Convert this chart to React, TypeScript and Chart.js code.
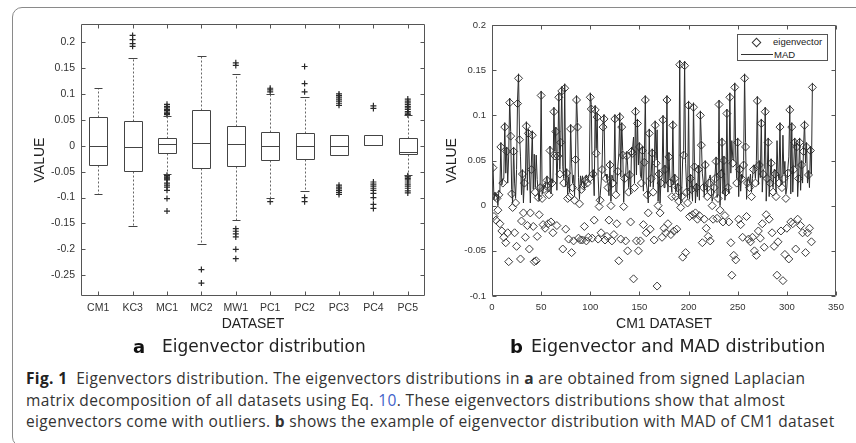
import React, { useEffect, useRef } from "react";
import { Chart, registerables } from "chart.js";

Chart.register(...registerables);

// ---------- Panel a: eigenvector distribution (box plots) ----------
const CATEGORIES = ["CM1", "KC3", "MC1", "MC2", "MW1", "PC1", "PC2", "PC3", "PC4", "PC5"];
const BOX_Q3 = [0.055, 0.048, 0.0155, 0.069, 0.0387, 0.0258, 0.024, 0.0206, 0.0206, 0.0155];
const BOX_MEDIAN = [0.0, -0.002, 0.0026, 0.0058, 0.003, 0.0, 0.0, 0.0, 0.001, -0.013];
const BOX_Q1 = [-0.0374, -0.049, -0.0135, -0.0426, -0.0387, -0.0277, -0.025, -0.018, 0.001, -0.015];
const WHISKER_HIGH = [0.112, 0.169, 0.057, 0.174, 0.139, 0.1, 0.094, 0.0206, 0.0206, 0.059];
const WHISKER_LOW = [-0.094, -0.155, -0.054, -0.189, -0.143, -0.1, -0.088, -0.018, 0.001, -0.057];
const OUTLIERS: number[][] = [
  [],
  [0.213, 0.205, 0.197, 0.192],
  [0.08, 0.076, 0.073, 0.07, 0.068, 0.065, 0.062, 0.06, -0.057, -0.06, -0.062, -0.064, -0.066, -0.072, -0.076, -0.08, -0.086, -0.102, -0.126],
  [-0.239, -0.265],
  [0.16, 0.155, -0.16, -0.165, -0.17, -0.176, -0.2, -0.218],
  [0.111, 0.108, 0.104, -0.108],
  [0.153, 0.12, 0.104, -0.1, -0.108],
  [0.1, 0.097, 0.094, 0.09, 0.086, 0.082, 0.078, -0.076, -0.08, -0.083, -0.086, -0.09, -0.094],
  [0.077, 0.072, -0.07, -0.074, -0.078, -0.082, -0.086, -0.092, -0.1, -0.113, -0.121],
  [0.09, 0.086, 0.083, 0.08, 0.076, 0.073, 0.07, 0.066, 0.063, 0.06, -0.058, -0.06, -0.063, -0.066, -0.07, -0.074, -0.078, -0.082, -0.087, -0.091],
];
const Y_TICKS_A = [-0.25, -0.2, -0.15, -0.1, -0.05, 0, 0.05, 0.1, 0.15, 0.2];

// ---------- Panel b: eigenvector and MAD of CM1 dataset ----------
const EIGENVECTOR = [
  0.042, -0.012, 0.010, -0.016, 0.008, -0.005, 0.012, -0.020, 0.065, -0.028,
  0.025, -0.035, 0.087, -0.041, 0.060, -0.030, -0.062, 0.114, 0.077, 0.013,
  -0.002, 0.060, -0.030, 0.003, -0.045, 0.113, 0.141, 0.073, -0.059, -0.017,
  0.035, -0.008, 0.025, -0.035, 0.088, -0.022, 0.080, -0.048, -0.008, 0.040,
  0.078, -0.023, -0.062, 0.015, -0.061, -0.034, 0.009, -0.010, 0.020, 0.122,
  0.008, -0.021, 0.018, -0.025, 0.022, 0.028, -0.020, 0.012, 0.061, -0.018,
  0.025, -0.030, 0.104, 0.055, 0.082, -0.022, 0.055, 0.120, 0.035, 0.070,
  0.127, -0.048, 0.025, 0.130, -0.026, 0.036, 0.008, -0.037, 0.010, 0.085,
  -0.052, 0.020, -0.039, 0.006, 0.051, 0.117, 0.087, -0.036, 0.002, -0.038,
  0.018, -0.038, 0.022, -0.023, 0.028, -0.039, 0.025, -0.035, 0.030, 0.120,
  0.107, -0.036, 0.035, -0.016, 0.106, 0.058, 0.098, -0.037, -0.001, 0.006,
  -0.030, 0.040, 0.087, 0.096, -0.038, 0.030, -0.034, 0.020, -0.016, 0.045,
  0.000, -0.039, 0.025, -0.032, 0.096, 0.012, -0.020, 0.038, -0.061, 0.098,
  -0.037, 0.087, 0.056, -0.001, 0.030, -0.039, 0.055, -0.050, 0.015, 0.034,
  -0.018, 0.060, 0.058, -0.081, 0.020, 0.104, -0.039, 0.091, -0.050, 0.065,
  -0.039, 0.025, 0.061, -0.021, 0.048, 0.117, -0.030, 0.012, -0.008, 0.080,
  -0.026, 0.030, 0.058, 0.015, -0.038, 0.089, 0.047, -0.089, 0.000, 0.035,
  -0.008, 0.025, -0.035, 0.095, -0.025, 0.040, -0.030, 0.117, -0.020, 0.054,
  0.025, -0.032, 0.010, 0.089, -0.028, 0.030, 0.010, -0.026, 0.020, 0.005,
  0.156, -0.002, 0.010, -0.057, 0.056, 0.155, -0.052, 0.015, 0.003, 0.111,
  -0.012, 0.030, 0.018, -0.010, 0.109, 0.043, -0.008, 0.020, -0.015, 0.040,
  -0.011, 0.100, 0.067, -0.041, 0.020, -0.015, 0.045, -0.025, 0.010, -0.034,
  0.025, -0.039, 0.015, 0.000, -0.015, 0.020, 0.030, 0.049, -0.014, 0.008,
  0.112, -0.005, 0.035, 0.070, -0.018, 0.050, -0.011, 0.015, 0.102, 0.020,
  -0.018, 0.120, -0.041, -0.077, 0.047, -0.055, 0.131, -0.060, 0.025, 0.070,
  -0.015, 0.040, -0.021, 0.030, -0.035, 0.045, 0.141, 0.065, -0.012, 0.025,
  -0.037, 0.020, -0.040, 0.010, -0.035, 0.040, -0.050, 0.025, -0.055, 0.116,
  -0.028, 0.045, -0.036, 0.091, -0.020, 0.035, -0.046, 0.104, -0.010, 0.030,
  0.070, -0.015, 0.025, 0.047, -0.030, 0.015, -0.045, 0.035, 0.010, -0.077,
  -0.040, 0.025, 0.087, -0.028, 0.020, -0.083, 0.030, -0.054, 0.008, -0.025,
  0.036, -0.059, 0.106, -0.018, 0.087, -0.020, 0.040, 0.070, -0.048, 0.065,
  -0.015, 0.030, 0.070, -0.022, 0.045, -0.030, 0.060, 0.089, -0.052, 0.065,
  -0.030, 0.034, -0.025, 0.061, -0.040, 0.131,
];
const MAD = [
  0.047, 0.007, 0.015, 0.011, 0.013, 0.000, 0.017, 0.015, 0.070, 0.023,
  0.030, 0.030, 0.092, 0.036, 0.065, 0.025, 0.057, 0.119, 0.082, 0.018,
  0.003, 0.065, 0.025, 0.008, 0.040, 0.118, 0.146, 0.078, 0.054, 0.012,
  0.040, 0.003, 0.030, 0.030, 0.093, 0.017, 0.085, 0.043, 0.003, 0.045,
  0.083, 0.018, 0.057, 0.020, 0.056, 0.029, 0.014, 0.005, 0.025, 0.127,
  0.013, 0.016, 0.023, 0.020, 0.027, 0.033, 0.015, 0.017, 0.066, 0.013,
  0.030, 0.025, 0.109, 0.060, 0.087, 0.017, 0.060, 0.125, 0.040, 0.075,
  0.132, 0.043, 0.030, 0.135, 0.021, 0.041, 0.013, 0.032, 0.015, 0.090,
  0.047, 0.025, 0.034, 0.011, 0.056, 0.122, 0.092, 0.031, 0.007, 0.033,
  0.023, 0.033, 0.027, 0.018, 0.033, 0.034, 0.030, 0.030, 0.035, 0.125,
  0.112, 0.031, 0.040, 0.011, 0.111, 0.063, 0.103, 0.032, 0.004, 0.011,
  0.025, 0.045, 0.092, 0.101, 0.033, 0.035, 0.029, 0.025, 0.011, 0.050,
  0.005, 0.034, 0.030, 0.027, 0.101, 0.017, 0.015, 0.043, 0.056, 0.103,
  0.032, 0.092, 0.061, 0.004, 0.035, 0.034, 0.060, 0.045, 0.020, 0.039,
  0.013, 0.065, 0.063, 0.076, 0.025, 0.109, 0.034, 0.096, 0.045, 0.070,
  0.034, 0.030, 0.066, 0.016, 0.053, 0.122, 0.025, 0.017, 0.003, 0.085,
  0.021, 0.035, 0.063, 0.020, 0.033, 0.094, 0.052, 0.084, 0.005, 0.040,
  0.003, 0.030, 0.030, 0.100, 0.020, 0.045, 0.025, 0.122, 0.015, 0.059,
  0.030, 0.027, 0.015, 0.094, 0.023, 0.035, 0.015, 0.021, 0.025, 0.010,
  0.161, 0.003, 0.015, 0.052, 0.061, 0.160, 0.047, 0.020, 0.008, 0.116,
  0.007, 0.035, 0.023, 0.005, 0.114, 0.048, 0.003, 0.025, 0.010, 0.045,
  0.006, 0.105, 0.072, 0.036, 0.025, 0.010, 0.050, 0.020, 0.015, 0.029,
  0.030, 0.034, 0.020, 0.005, 0.010, 0.025, 0.035, 0.054, 0.009, 0.013,
  0.117, 0.000, 0.040, 0.075, 0.013, 0.055, 0.006, 0.020, 0.107, 0.025,
  0.013, 0.125, 0.036, 0.072, 0.052, 0.050, 0.136, 0.055, 0.030, 0.075,
  0.010, 0.045, 0.016, 0.035, 0.030, 0.050, 0.146, 0.070, 0.007, 0.030,
  0.032, 0.025, 0.035, 0.015, 0.030, 0.045, 0.045, 0.030, 0.050, 0.121,
  0.023, 0.050, 0.031, 0.096, 0.015, 0.040, 0.041, 0.109, 0.005, 0.035,
  0.075, 0.010, 0.030, 0.052, 0.025, 0.020, 0.040, 0.040, 0.015, 0.072,
  0.035, 0.030, 0.092, 0.023, 0.025, 0.078, 0.035, 0.049, 0.013, 0.020,
  0.041, 0.054, 0.111, 0.013, 0.092, 0.015, 0.045, 0.075, 0.043, 0.070,
  0.010, 0.035, 0.075, 0.017, 0.050, 0.025, 0.065, 0.094, 0.047, 0.070,
  0.025, 0.039, 0.020, 0.066, 0.035, 0.136,
];
const X_TICKS_B = [0, 50, 100, 150, 200, 250, 300, 350];
const Y_TICKS_B = [-0.1, -0.05, 0, 0.05, 0.1, 0.15, 0.2];

const AXIS_FONT = "'Liberation Sans', Arial, Helvetica, sans-serif";
const fmt = (v: any) => String(Number(Number(v).toFixed(3)));

const line = (ctx: CanvasRenderingContext2D, x1: number, y1: number, x2: number, y2: number) => {
  ctx.moveTo(x1, y1);
  ctx.lineTo(x2, y2);
};

// MATLAB-like box around the axes with inward tick marks on all four sides
const framePlugin = {
  id: "matlabFrame",
  afterDraw(chart: any) {
    const { ctx, chartArea, scales } = chart;
    const L = Math.round(chartArea.left) + 0.5;
    const R = Math.round(chartArea.right) - 0.5;
    const T = Math.round(chartArea.top) + 0.5;
    const B = Math.round(chartArea.bottom) - 0.5;
    const tl = 4;
    ctx.save();
    ctx.strokeStyle = "#555";
    ctx.lineWidth = 1;
    ctx.beginPath();
    ctx.rect(L, T, R - L, B - T);
    scales.x.ticks.forEach((t: any) => {
      const px = Math.round(scales.x.getPixelForValue(t.value)) + 0.5;
      line(ctx, px, B, px, B - tl);
      line(ctx, px, T, px, T + tl);
    });
    scales.y.ticks.forEach((t: any) => {
      const py = Math.round(scales.y.getPixelForValue(t.value)) + 0.5;
      line(ctx, L, py, L + tl, py);
      line(ctx, R, py, R - tl, py);
    });
    ctx.stroke();
    ctx.restore();
  },
};

// Box-and-whisker drawing through the chart's own scales
const boxPlugin = {
  id: "boxWhisker",
  afterDatasetsDraw(chart: any) {
    const { ctx, scales } = chart;
    const { x, y } = scales;
    const px = (v: number) => Math.round(x.getPixelForValue(v)) + 0.5;
    const py = (v: number) => Math.round(y.getPixelForValue(v)) + 0.5;
    ctx.save();
    ctx.lineWidth = 1;
    CATEGORIES.forEach((_, i) => {
      const c = i + 1;
      const xc = px(c);
      const xl = px(c - 0.26);
      const xr = px(c + 0.26);
      const cl = px(c - 0.12);
      const cr = px(c + 0.12);
      const q1 = py(BOX_Q1[i]);
      const q3 = py(BOX_Q3[i]);
      const med = py(BOX_MEDIAN[i]);
      const hi = py(WHISKER_HIGH[i]);
      const lo = py(WHISKER_LOW[i]);
      // dotted whiskers
      ctx.strokeStyle = "#666";
      ctx.setLineDash([2, 2]);
      ctx.beginPath();
      line(ctx, xc, q3, xc, hi);
      line(ctx, xc, q1, xc, lo);
      ctx.stroke();
      ctx.setLineDash([]);
      // caps
      ctx.strokeStyle = "#444";
      ctx.beginPath();
      line(ctx, cl, hi, cr, hi);
      line(ctx, cl, lo, cr, lo);
      ctx.stroke();
      // box and median
      ctx.strokeStyle = "#444";
      ctx.beginPath();
      ctx.rect(xl, q3, xr - xl, q1 - q3);
      line(ctx, xl, med, xr, med);
      ctx.stroke();
    });
    ctx.restore();
  },
};

function baseScales(opts: {
  xMin: number; xMax: number; xTicks: number[]; xLabel: (v: number) => string; xTitle: string;
  yMin: number; yMax: number; yTicks: number[]; yAxisWidth: number; yTitlePad: number; tickSize: number;
}) {
  return {
    x: {
      type: "linear",
      min: opts.xMin,
      max: opts.xMax,
      afterBuildTicks: (ax: any) => {
        ax.ticks = opts.xTicks.map((v) => ({ value: v }));
      },
      afterFit: (ax: any) => {
        ax.height = 44;
      },
      grid: { display: false, drawTicks: false },
      border: { display: false },
      ticks: {
        autoSkip: false,
        maxRotation: 0,
        padding: 6,
        color: "#333",
        font: { family: AXIS_FONT, size: opts.tickSize },
        callback: (v: any) => opts.xLabel(Number(v)),
      },
      title: {
        display: true,
        text: opts.xTitle,
        color: "#222",
        font: { family: AXIS_FONT, size: 14 },
        padding: { top: 0, bottom: 7.6 },
      },
    },
    y: {
      type: "linear",
      min: opts.yMin,
      max: opts.yMax,
      afterBuildTicks: (ax: any) => {
        ax.ticks = opts.yTicks.map((v) => ({ value: v }));
      },
      afterFit: (ax: any) => {
        ax.width = opts.yAxisWidth;
      },
      grid: { display: false, drawTicks: false },
      border: { display: false },
      ticks: {
        padding: 6,
        color: "#333",
        font: { family: AXIS_FONT, size: opts.tickSize },
        callback: (v: any) => fmt(v),
      },
      title: {
        display: true,
        text: "VALUE",
        color: "#222",
        font: { family: AXIS_FONT, size: 14 },
        padding: { top: opts.yTitlePad, bottom: 0 },
      },
    },
  };
}

export default function App() {
  const refA = useRef<HTMLCanvasElement | null>(null);
  const refB = useRef<HTMLCanvasElement | null>(null);

  useEffect(() => {
    const outlierPoints = OUTLIERS.flatMap((vals, i) => vals.map((v) => ({ x: i + 1, y: v })));
    const chartA = new Chart(refA.current as HTMLCanvasElement, {
      type: "scatter",
      data: {
        datasets: [
          {
            label: "outliers",
            data: outlierPoints,
            pointStyle: "cross",
            pointRadius: 3,
            pointBorderWidth: 1.2,
            pointBorderColor: "#2a2a2a",
            pointBackgroundColor: "#2a2a2a",
          } as any,
        ],
      },
      options: {
        responsive: false,
        animation: false,
        events: [],
        layout: { padding: { left: 0, top: 24, right: 15, bottom: 0 } },
        plugins: { legend: { display: false }, tooltip: { enabled: false } },
        scales: baseScales({
          xMin: 0.5,
          xMax: 10.5,
          xTicks: CATEGORIES.map((_, i) => i + 1),
          xLabel: (v) => CATEGORIES[Math.round(v) - 1] ?? "",
          xTitle: "DATASET",
          yMin: -0.29,
          yMax: 0.235,
          yTicks: Y_TICKS_A,
          yAxisWidth: 81,
          yTitlePad: 31.6,
          tickSize: 10.5,
        }) as any,
      },
      plugins: [boxPlugin, framePlugin],
    });

    const chartB = new Chart(refB.current as HTMLCanvasElement, {
      type: "scatter",
      data: {
        datasets: [
          {
            label: "MAD",
            data: MAD.map((v, i) => ({ x: i + 1, y: v })),
            showLine: true,
            borderColor: "#2b2b2b",
            borderWidth: 1,
            pointRadius: 0,
            order: 0,
          } as any,
          {
            label: "eigenvector",
            data: EIGENVECTOR.map((v, i) => ({ x: i + 1, y: v })),
            showLine: false,
            pointStyle: "rectRot",
            pointRadius: 4,
            pointBorderWidth: 1,
            pointBorderColor: "#3a3a3a",
            pointBackgroundColor: "rgba(0,0,0,0)",
            order: 1,
          } as any,
        ],
      },
      options: {
        responsive: false,
        animation: false,
        events: [],
        layout: { padding: { left: 0, top: 25, right: 20, bottom: 0 } },
        plugins: { legend: { display: false }, tooltip: { enabled: false } },
        scales: baseScales({
          xMin: 0,
          xMax: 350,
          xTicks: X_TICKS_B,
          xLabel: (v) => fmt(v),
          xTitle: "CM1 DATASET",
          yMin: -0.1,
          yMax: 0.2,
          yTicks: Y_TICKS_B,
          yAxisWidth: 52,
          yTitlePad: 3.6,
          tickSize: 9.5,
        }) as any,
      },
      plugins: [framePlugin],
    });

    return () => {
      chartA.destroy();
      chartB.destroy();
    };
  }, []);

  const captionFont = "'DejaVu Sans', Verdana, sans-serif";
  const figFont = "'Open Sans', 'Noto Sans', sans-serif";
  const figLine: React.CSSProperties = {
    position: "absolute",
    left: 26,
    whiteSpace: "nowrap",
    fontFamily: figFont,
    fontSize: 15.5,
    lineHeight: "20px",
    color: "#333",
    letterSpacing: "0.35px",
  };

  return (
    <div
      style={{
        position: "absolute",
        left: 0,
        top: 0,
        width: 856,
        height: 443,
        overflow: "hidden",
        background: "#fff",
      }}
    >
      <div
        style={{
          position: "absolute",
          left: 12,
          top: 7,
          width: 880,
          height: 440,
          border: "1.5px solid #8a8a8a",
          borderRadius: 10,
          boxSizing: "border-box",
        }}
      />
      <canvas ref={refA} width={440} height={340} style={{ position: "absolute", left: 0, top: 0 }} />
      <canvas ref={refB} width={416} height={340} style={{ position: "absolute", left: 440, top: 0 }} />

      {/* legend of panel b */}
      <div
        style={{
          position: "absolute",
          left: 737,
          top: 34,
          width: 91,
          height: 27,
          border: "1px solid #555",
          background: "#fff",
          boxSizing: "border-box",
          fontFamily: AXIS_FONT,
          fontSize: 9.5,
          color: "#222",
        }}
      >
        <div
          style={{
            position: "absolute",
            left: 15,
            top: 4,
            width: 5,
            height: 5,
            border: "1px solid #333",
            transform: "rotate(45deg)",
          }}
        />
        <span style={{ position: "absolute", left: 35, top: 1, lineHeight: "11px" }}>eigenvector</span>
        <div style={{ position: "absolute", left: 3, top: 19, width: 32, borderTop: "1px solid #333" }} />
        <span style={{ position: "absolute", left: 36, top: 14, lineHeight: "11px" }}>MAD</span>
      </div>

      {/* panel captions */}
      <div style={{ position: "absolute", left: 133, top: 336, fontFamily: captionFont, fontSize: 18, fontWeight: "bold", lineHeight: "21px", color: "#111" }}>a</div>
      <div style={{ position: "absolute", left: 162, top: 336, fontFamily: captionFont, fontSize: 17, lineHeight: "21px", color: "#222", whiteSpace: "nowrap" }}>Eigenvector distribution</div>
      <div style={{ position: "absolute", left: 510, top: 336, fontFamily: captionFont, fontSize: 18, fontWeight: "bold", lineHeight: "21px", color: "#111" }}>b</div>
      <div style={{ position: "absolute", left: 531, top: 336, fontFamily: captionFont, fontSize: 17.5, lineHeight: "21px", color: "#222", whiteSpace: "nowrap" }}>Eigenvector and MAD distribution</div>

      {/* figure caption */}
      <div style={{ ...figLine, top: 368 }}>
        <b style={{ color: "#222" }}>Fig. 1</b>
        {"\u00a0 Eigenvectors distribution. The eigenvectors distributions in "}
        <b>a</b>
        {" are obtained from signed Laplacian"}
      </div>
      <div style={{ ...figLine, top: 390 }}>
        {"matrix decomposition of all datasets using Eq. "}
        <span style={{ color: "#3f63c9" }}>10</span>
        {". These eigenvectors distributions show that almost"}
      </div>
      <div style={{ ...figLine, top: 411 }}>
        {"eigenvectors come with outliers. "}
        <b>b</b>
        {" shows the example of eigenvector distribution with MAD of CM1 dataset"}
      </div>
    </div>
  );
}
